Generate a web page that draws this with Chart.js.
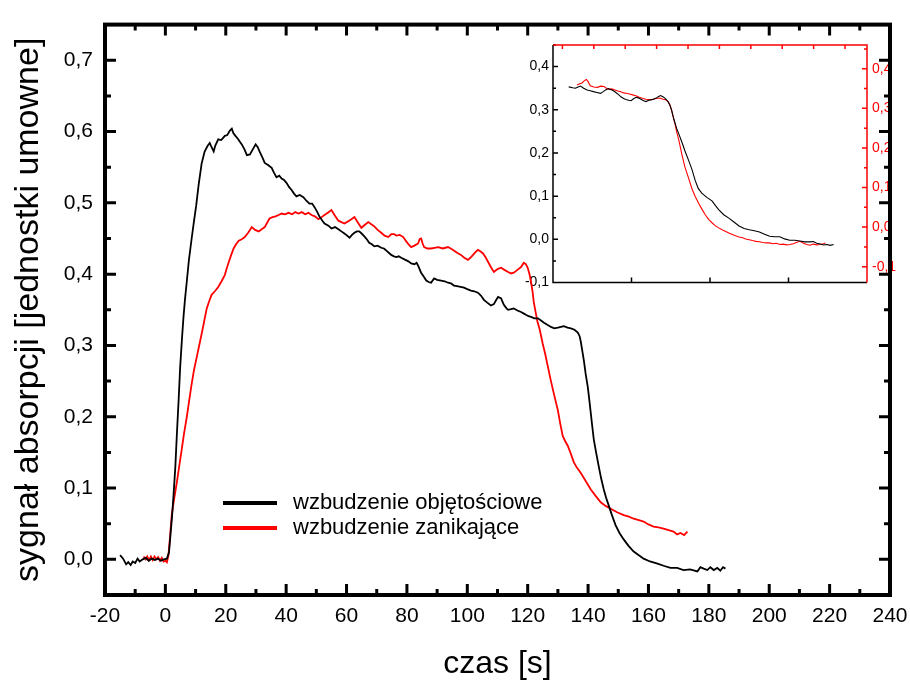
<!DOCTYPE html>
<html><head><meta charset="utf-8">
<script src="https://cdn.jsdelivr.net/npm/chart.js@4.4.1/dist/chart.umd.min.js"></script>
<style>
html,body{margin:0;padding:0;background:#fff;}
#wrap{position:relative;width:910px;height:680px;overflow:hidden;}
#main{position:absolute;left:0;top:0;z-index:2;}
#inset{position:absolute;left:500px;top:30px;z-index:1;}
</style></head>
<body><div id="wrap"><canvas id="inset" width="400" height="270"></canvas><canvas id="main" width="910" height="680"></canvas></div>
<script>
// ---------- main chart data ----------
const blackT = [-15,-14,-13,-12.3,-11.5,-10.8,-10,-9.2,-8.5,-7.5,-6.5,-5.5,-4.5,-3.5,-2.5,-1.5,-0.5,0.5,1.2,1.6,2.2,2.7,3.3,3.8,4.4,4.9,5.5,6.0,6.5,7.1,7.8,8.7,9.5,10.2,11.0,12.0,13.0,14.0,14.7,15.3,16.0,16.5,17.5,18.5,19.7,20.5,21.3,22.0,22.5,23.2,24.0,25.3,26.2,27.0,28.0,28.8,29.9,30.6,31.3,32.2,32.9,34.0,35.2,36.0,36.8,37.7,38.5,39.3,40.1,41.0,41.8,42.6,43.4,44.5,45.7,46.7,47.7,48.6,49.4,50.2,51.0,52.0,52.7,54.0,55.0,56.2,57.3,58.3,59.3,60.2,61.0,61.8,62.6,63.4,64.2,65.0,65.9,66.7,67.5,68.4,69.2,70.3,71.5,72.4,73.2,74.0,74.8,75.7,76.5,77.3,78.1,79.5,80.5,81.4,82.5,83.2,83.7,84.2,84.7,85.5,86.4,87.2,88.0,89.0,90.0,91.3,92.5,93.6,94.6,95.6,97.0,98.9,100.0,101.2,102.3,103.5,104.5,105.5,106.6,107.8,108.8,109.6,110.2,111.2,112.1,113.0,113.5,114.5,115.4,116.6,117.8,118.6,119.4,120.3,121.1,122.2,123.4,124.4,125.4,126.5,127.7,128.8,130.0,131.0,132.0,133.2,134.3,135.5,136.6,137.2,137.6,138.1,138.6,139.2,139.9,140.4,140.9,141.4,141.9,142.7,143.5,144.3,145.2,146.0,146.8,147.9,149.1,150.4,151.8,153.4,155.1,156.7,158.4,160.5,163.0,165.0,167.3,169.5,171.6,173.8,176.2,177.2,178.3,179.5,180.5,181.6,182.8,183.8,184.7,185.5];
const blackV = [0.006,0.001,-0.007,-0.004,-0.008,-0.003,-0.005,0.001,-0.003,0.000,0.002,-0.002,0.001,-0.001,0.001,-0.002,0.000,0.001,0.01,0.03,0.06,0.09,0.13,0.175,0.225,0.27,0.31,0.34,0.365,0.39,0.42,0.45,0.475,0.496,0.525,0.555,0.572,0.58,0.584,0.578,0.572,0.58,0.589,0.588,0.594,0.595,0.601,0.604,0.598,0.594,0.59,0.582,0.575,0.567,0.568,0.574,0.582,0.578,0.571,0.563,0.556,0.553,0.549,0.542,0.536,0.538,0.534,0.532,0.528,0.522,0.518,0.513,0.509,0.511,0.508,0.503,0.499,0.499,0.494,0.488,0.481,0.475,0.471,0.468,0.464,0.466,0.463,0.46,0.457,0.454,0.451,0.455,0.458,0.46,0.46,0.457,0.453,0.449,0.444,0.442,0.439,0.44,0.437,0.436,0.433,0.43,0.427,0.425,0.424,0.425,0.423,0.42,0.418,0.415,0.414,0.416,0.412,0.407,0.402,0.397,0.391,0.389,0.388,0.394,0.392,0.391,0.39,0.388,0.387,0.384,0.383,0.381,0.379,0.377,0.376,0.374,0.37,0.364,0.36,0.356,0.358,0.364,0.368,0.366,0.357,0.352,0.35,0.351,0.352,0.349,0.347,0.345,0.343,0.341,0.34,0.338,0.338,0.335,0.332,0.329,0.326,0.324,0.325,0.326,0.327,0.325,0.324,0.322,0.318,0.313,0.305,0.292,0.279,0.26,0.242,0.224,0.205,0.186,0.168,0.149,0.131,0.114,0.098,0.086,0.076,0.062,0.048,0.037,0.028,0.019,0.011,0.006,0.001,-0.003,-0.006,-0.009,-0.012,-0.012,-0.015,-0.014,-0.017,-0.011,-0.013,-0.015,-0.011,-0.015,-0.012,-0.016,-0.011,-0.013];

const redT = [-7.2,-6.5,-6.0,-5.4,-4.8,-4.2,-3.6,-3.0,-2.4,-1.8,-1.2,-0.6,0.0,0.5,1.0,1.5,2.1,2.9,3.8,4.6,5.4,6.2,7.1,7.9,8.7,9.5,10.4,11.2,12.0,12.9,13.7,14.5,15.3,16.4,17.5,18.6,19.7,20.3,21.0,21.8,22.6,23.4,24.3,25.3,26.3,27.4,28.0,28.6,29.7,30.9,31.9,32.9,33.7,34.5,35.5,36.5,37.5,38.5,39.6,40.8,42.0,43.0,44.1,45.2,46.3,47.4,48.4,49.5,50.7,51.7,52.7,53.8,55.0,56.0,57.3,58.3,59.3,60.5,61.6,62.6,63.8,64.9,66.0,67.2,68.2,69.2,70.3,71.5,72.6,73.8,74.8,75.8,76.5,77.6,78.8,79.6,80.5,81.4,82.5,83.7,84.2,84.7,85.2,85.7,86.8,88.0,89.2,90.3,91.9,93.6,94.5,95.3,96.6,97.9,99.0,100.2,101.0,101.9,102.7,103.5,104.3,105.2,106.0,106.9,107.8,108.8,110.0,111.2,112.3,113.5,114.5,115.4,116.6,117.8,118.7,119.4,120.0,120.6,121.1,121.6,122.0,122.7,123.2,124.0,125.0,125.8,126.7,127.7,128.8,130.0,130.8,131.6,132.4,133.3,134.3,135.3,136.4,137.6,139.2,140.9,142.5,144.2,145.8,147.5,149.6,151.8,153.5,155.1,156.8,158.4,160.0,161.7,163.3,165.0,166.7,168.3,169.5,170.6,171.8,172.9];
const redV = [0.004,0.0,0.004,-0.001,0.004,-0.001,0.004,0.0,0.003,-0.002,0.002,-0.003,-0.002,-0.004,0.005,0.03,0.062,0.085,0.108,0.131,0.154,0.177,0.2,0.223,0.246,0.266,0.284,0.3,0.316,0.335,0.352,0.362,0.371,0.376,0.382,0.39,0.399,0.408,0.417,0.427,0.436,0.442,0.447,0.449,0.452,0.458,0.462,0.466,0.462,0.46,0.463,0.466,0.472,0.478,0.48,0.481,0.483,0.485,0.484,0.486,0.484,0.487,0.485,0.487,0.484,0.486,0.483,0.481,0.477,0.48,0.483,0.486,0.49,0.483,0.475,0.473,0.471,0.474,0.477,0.48,0.472,0.465,0.469,0.473,0.47,0.467,0.462,0.458,0.454,0.452,0.456,0.456,0.454,0.455,0.452,0.447,0.442,0.438,0.44,0.443,0.449,0.45,0.443,0.438,0.436,0.436,0.437,0.438,0.436,0.438,0.436,0.434,0.43,0.427,0.423,0.42,0.423,0.427,0.431,0.434,0.432,0.429,0.424,0.417,0.41,0.403,0.407,0.409,0.406,0.403,0.401,0.402,0.406,0.41,0.416,0.414,0.409,0.4,0.389,0.376,0.361,0.345,0.334,0.322,0.302,0.288,0.27,0.25,0.23,0.209,0.19,0.173,0.166,0.159,0.148,0.136,0.128,0.121,0.11,0.098,0.089,0.08,0.075,0.071,0.066,0.062,0.06,0.057,0.055,0.053,0.049,0.046,0.045,0.043,0.041,0.039,0.035,0.037,0.034,0.039];

const xTicks = [-20,0,20,40,60,80,100,120,140,160,180,200,220,240];
const xMinorTicks = [-10,10,30,50,70,90,110,130,150,170,190,210,230];
const yTicks = [0,0.1,0.2,0.3,0.4,0.5,0.6,0.7];
const yMinorTicks = [-0.05,0.05,0.15,0.25,0.35,0.45,0.55,0.65,0.75];

const legendLabels = ['wzbudzenie objętościowe','wzbudzenie zanikające'];
const xTitle = 'czas [s]';
const yTitle = 'sygnał absorpcji [jednostki umowne]';

// ---------- inset data ----------
const insetBlackT = [104,105,105.7,106.4,107,107.8,108.7,109.5,110.3,111.2,112.1,112.8,113.4,114.1,114.7,115.4,116,116.7,117.3,118,118.6,119.3,119.9,120.6,121.2,121.9,122.5,123.1,123.7,124.4,125,125.7,126.3,126.9,127.4,128,128.5,129.3,129.8,130.2,130.8,131.5,132.1,132.8,133.6,134.5,135.4,136.2,137,137.9,139.2,140.5,141.4,142.2,143.5,144.8,146.1,147.4,148.7,150,151.3,152.6,153.9,155.2,156.5,157.8,159,160.3,161.6,162.9,164.2,165.5,166.3,167.2,168.1,168.9,169.8,170.6,171.5];
const insetBlackV = [0.353,0.351,0.35,0.353,0.355,0.35,0.346,0.344,0.342,0.34,0.338,0.342,0.346,0.349,0.347,0.344,0.34,0.335,0.33,0.326,0.324,0.322,0.321,0.326,0.329,0.327,0.324,0.321,0.319,0.322,0.323,0.325,0.327,0.331,0.333,0.33,0.327,0.319,0.31,0.3,0.278,0.257,0.243,0.226,0.205,0.184,0.162,0.137,0.118,0.107,0.097,0.089,0.078,0.069,0.057,0.049,0.04,0.031,0.025,0.022,0.02,0.017,0.012,0.007,0.006,0.006,0.001,-0.002,-0.002,-0.004,-0.006,-0.006,-0.005,-0.009,-0.011,-0.013,-0.012,-0.014,-0.012];
const insetRedT = [106.1,106.8,107.4,108,108.5,108.9,109.5,110.4,111.3,112.2,113,113.6,114.3,115,115.6,116.5,117.3,118,118.6,119.5,120.3,121.1,122,122.9,123.7,124.6,125.5,126.3,127.2,128,128.9,129.4,129.8,130.2,130.6,131.1,131.5,132,132.4,132.8,133.6,134.5,135.4,136.2,137.1,137.9,138.8,139.7,140.5,141.4,142.2,143.1,144,144.8,145.7,146.5,147.4,148.3,149.1,150,150.8,151.7,152.6,153.4,154.3,155.2,156,156.9,157.8,158.6,159.5,160.3,161.2,162,162.9,163.7,164.6,165.5,166.3,167.2,168,168.9,169.4];
const insetRedV = [0.359,0.362,0.364,0.37,0.373,0.368,0.357,0.354,0.353,0.356,0.355,0.351,0.348,0.349,0.347,0.344,0.342,0.339,0.338,0.336,0.334,0.332,0.328,0.325,0.323,0.322,0.323,0.325,0.326,0.323,0.321,0.316,0.309,0.295,0.279,0.26,0.241,0.222,0.204,0.185,0.152,0.125,0.097,0.078,0.06,0.046,0.031,0.019,0.011,0.003,-0.002,-0.007,-0.011,-0.015,-0.019,-0.022,-0.025,-0.027,-0.03,-0.032,-0.034,-0.036,-0.037,-0.039,-0.04,-0.04,-0.042,-0.041,-0.044,-0.043,-0.045,-0.044,-0.042,-0.039,-0.036,-0.04,-0.044,-0.046,-0.043,-0.045,-0.044,-0.042,-0.04];

const insetXTicks = [120,140,160];
const insetX2Ticks = [120,130,140,150,160,170,180,190,200,210];
const insetYTicks = [-0.1,0,0.1,0.2,0.3,0.4];
const insetYMinorTicks = [-0.05,0.05,0.15,0.25,0.35,0.45];
const insetY2Ticks = [-0.1,0,0.1,0.2,0.3,0.4];
const insetY2MinorTicks = [-0.05,0.05,0.15,0.25,0.35,0.45];

const FONT = "'Liberation Sans', Arial, Helvetica, sans-serif";
const RED = '#ff0000';
const fmt = v => (Math.round(v*10)/10).toFixed(1).replace('.', ',');
const pts = (T, V) => T.map((t, i) => ({x: t, y: V[i]}));
const setTicks = arr => (s => { s.ticks = arr.map(v => ({value: v})); });
const noSidePad = s => { s.paddingLeft = 0; s.paddingRight = 0; };

// ---------- main chart ----------
const mainFrame = {
  id: 'mainFrame',
  afterDraw(chart) {
    const {ctx, chartArea: a, scales: {x, y}} = chart;
    ctx.save();
    ctx.strokeStyle = '#000';
    ctx.lineWidth = 3;
    ctx.beginPath();
    const xt = (v, L) => { const p = x.getPixelForValue(v);
      ctx.moveTo(p, a.bottom); ctx.lineTo(p, a.bottom - L);
      ctx.moveTo(p, a.top); ctx.lineTo(p, a.top + L); };
    const yt = (v, L) => { const p = y.getPixelForValue(v);
      ctx.moveTo(a.left, p); ctx.lineTo(a.left + L, p);
      ctx.moveTo(a.right, p); ctx.lineTo(a.right - L, p); };
    xTicks.forEach(v => xt(v, 11));
    xMinorTicks.forEach(v => xt(v, 6));
    yTicks.forEach(v => yt(v, 11));
    yMinorTicks.forEach(v => yt(v, 6));
    ctx.stroke();
    ctx.lineWidth = 4;
    ctx.strokeRect(a.left, a.top, a.right - a.left, a.bottom - a.top);
    // legend
    const cols = ['#000', RED];
    const ly = [503, 528];
    ctx.font = '22px ' + FONT;
    ctx.fillStyle = '#000';
    ctx.textBaseline = 'middle';
    ctx.textAlign = 'left';
    legendLabels.forEach((lab, i) => {
      ctx.strokeStyle = cols[i];
      ctx.lineWidth = 4;
      ctx.beginPath(); ctx.moveTo(223, ly[i]); ctx.lineTo(277, ly[i]); ctx.stroke();
      ctx.fillText(lab, 293, ly[i]);
    });
    ctx.restore();
  }
};

new Chart(document.getElementById('main'), {
  type: 'line',
  data: {datasets: [
    {label: legendLabels[0], data: pts(blackT, blackV), borderColor: '#000', borderWidth: 1.8, pointRadius: 0, tension: 0, fill: false},
    {label: legendLabels[1], data: pts(redT, redV), borderColor: RED, borderWidth: 1.8, pointRadius: 0, tension: 0, fill: false}
  ]},
  options: {
    responsive: false, animation: false, devicePixelRatio: 1,
    layout: {padding: {left: 0, right: 20, top: 15, bottom: 0}},
    plugins: {legend: {display: false}, tooltip: {enabled: false}},
    scales: {
      x: {type: 'linear', min: -20, max: 240,
        afterBuildTicks: setTicks(xTicks), afterFit: s => { s.height = 85; noSidePad(s); },
        grid: {display: false, drawTicks: false}, border: {display: false},
        ticks: {padding: 9, color: '#000', autoSkip: false, maxRotation: 0, minRotation: 0,
          font: {family: FONT, size: 21}, callback: v => String(v)},
        title: {display: true, text: xTitle, color: '#000', padding: 0,
          font: {family: FONT, size: 32, lineHeight: 1}}},
      y: {type: 'linear', min: -0.05, max: 0.75,
        afterBuildTicks: setTicks(yTicks), afterFit: s => { s.width = 105; },
        grid: {display: false, drawTicks: false}, border: {display: false},
        ticks: {padding: 12, color: '#000', autoSkip: false, font: {family: FONT, size: 21}, callback: v => fmt(v)},
        title: {display: true, text: yTitle, color: '#000', padding: {top: 12, bottom: 0},
          font: {family: FONT, size: 34, lineHeight: 1}}}
    }
  },
  plugins: [mainFrame]
});

// ---------- inset chart ----------
const insetFrame = {
  id: 'insetFrame',
  afterDraw(chart) {
    const {ctx, chartArea: a, scales: {x, x2, y, y2}} = chart;
    ctx.save();
    ctx.lineWidth = 1.5;
    ctx.strokeStyle = '#000';
    ctx.beginPath();
    insetYTicks.forEach(v => { const p = y.getPixelForValue(v); ctx.moveTo(a.left, p); ctx.lineTo(a.left + 5, p); });
    insetYMinorTicks.forEach(v => { const p = y.getPixelForValue(v); ctx.moveTo(a.left, p); ctx.lineTo(a.left + 3, p); });
    insetXTicks.forEach(v => { const p = x.getPixelForValue(v); ctx.moveTo(p, a.bottom); ctx.lineTo(p, a.bottom - 5); });
    ctx.moveTo(a.left, a.top); ctx.lineTo(a.left, a.bottom); ctx.lineTo(a.right, a.bottom);
    ctx.stroke();
    ctx.strokeStyle = RED;
    ctx.beginPath();
    insetY2Ticks.forEach(v => { const p = y2.getPixelForValue(v); ctx.moveTo(a.right, p); ctx.lineTo(a.right - 5, p); });
    insetY2MinorTicks.forEach(v => { const p = y2.getPixelForValue(v); ctx.moveTo(a.right, p); ctx.lineTo(a.right - 3, p); });
    insetX2Ticks.forEach(v => { const p = x2.getPixelForValue(v); ctx.moveTo(p, a.top); ctx.lineTo(p, a.top + 4); });
    ctx.moveTo(a.left, a.top); ctx.lineTo(a.right, a.top); ctx.lineTo(a.right, a.bottom);
    ctx.stroke();
    ctx.restore();
  }
};

new Chart(document.getElementById('inset'), {
  type: 'line',
  data: {datasets: [
    {data: pts(insetBlackT, insetBlackV), xAxisID: 'x', yAxisID: 'y', borderColor: '#000', borderWidth: 1.1, pointRadius: 0, tension: 0, fill: false},
    {data: pts(insetRedT, insetRedV), xAxisID: 'x', yAxisID: 'y2', borderColor: RED, borderWidth: 1.1, pointRadius: 0, tension: 0, fill: false}
  ]},
  options: {
    responsive: false, animation: false, devicePixelRatio: 1,
    layout: {padding: 0},
    plugins: {legend: {display: false}, tooltip: {enabled: false}},
    scales: {
      x: {type: 'linear', position: 'bottom', min: 100, max: 180,
        afterBuildTicks: setTicks(insetXTicks), afterFit: s => { s.height = 17.5; noSidePad(s); },
        grid: {display: false, drawTicks: false}, border: {display: false}, ticks: {display: false}},
      x2: {type: 'linear', position: 'top', min: 117, max: 217,
        afterBuildTicks: setTicks(insetX2Ticks), afterFit: s => { s.height = 15; noSidePad(s); },
        grid: {display: false, drawTicks: false}, border: {display: false}, ticks: {display: false}},
      y: {type: 'linear', position: 'left', min: -0.1, max: 0.45,
        afterBuildTicks: setTicks(insetYTicks), afterFit: s => { s.width = 53; s.paddingTop = 0; s.paddingBottom = 0; },
        grid: {display: false, drawTicks: false}, border: {display: false},
        ticks: {padding: 4, color: '#000', autoSkip: false, font: {family: FONT, size: 14}, callback: v => fmt(v)}},
      y2: {type: 'linear', position: 'right', min: -0.14, max: 0.46,
        afterBuildTicks: setTicks(insetY2Ticks), afterFit: s => { s.width = 33; s.paddingTop = 0; s.paddingBottom = 0; },
        grid: {display: false, drawTicks: false}, border: {display: false},
        ticks: {padding: 5, color: RED, autoSkip: false, font: {family: FONT, size: 14}, callback: v => fmt(v)}}
    }
  },
  plugins: [insetFrame]
});
</script>
</body></html>
